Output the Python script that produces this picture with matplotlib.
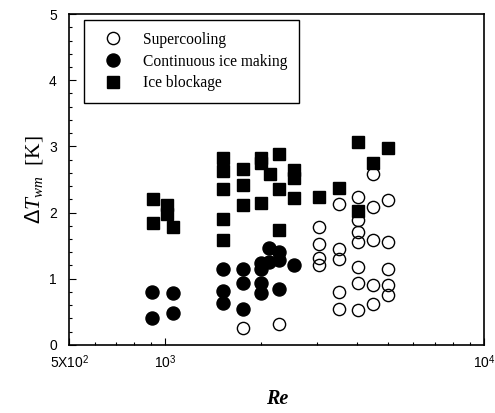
import matplotlib
matplotlib.use('Agg')
import matplotlib.pyplot as plt
from matplotlib.ticker import MultipleLocator, LogLocator, NullFormatter

# Supercooling (open circles)
super_re = [1747, 2266,
            3024, 3024, 3024, 3024,
            3502, 3502, 3502, 3502, 3502,
            4008, 4008, 4008, 4008, 4008, 4008, 4008,
            4498, 4498, 4498, 4498, 4498,
            5011, 5011, 5011, 5011, 5011]
super_dt = [0.25, 0.32,
            1.78, 1.53, 1.31, 1.20,
            2.13, 1.45, 1.30, 0.80, 0.54,
            2.24, 1.89, 1.71, 1.55, 1.18, 0.93, 0.52,
            2.58, 2.09, 1.59, 0.90, 0.61,
            2.19, 1.55, 1.14, 0.90, 0.76]

# Continuous ice making (filled circles)
cont_re = [910, 910, 1057, 1057,
           1512, 1512, 1512,
           1747, 1747, 1747,
           2000, 2000, 2000, 2000,
           2120, 2120,
           2266, 2266, 2266,
           2525]
cont_dt = [0.80, 0.40, 0.78, 0.48,
           1.15, 0.81, 0.63,
           1.15, 0.93, 0.54,
           1.24, 1.15, 0.93, 0.78,
           1.47, 1.25,
           1.40, 1.28, 0.85,
           1.20]

# Ice blockage (filled squares)
block_re = [915, 915, 1012, 1012, 1057,
            1512, 1512, 1512, 1512, 1512,
            1747, 1747, 1747,
            2000, 2000, 2000,
            2123,
            2266, 2266, 2266,
            2525, 2525, 2525,
            3024, 3502, 4008, 4008, 4498, 5011]
block_dt = [2.20, 1.84, 2.12, 1.98, 1.78,
            2.83, 2.63, 2.35, 1.90, 1.59,
            2.66, 2.41, 2.12,
            2.82, 2.75, 2.15,
            2.58,
            2.88, 2.36, 1.73,
            2.64, 2.52, 2.22,
            2.24, 2.37, 3.07, 2.03, 2.75, 2.98]

xtick_vals = [500, 1000, 10000]
xtick_labels = ['5X10$^2$', '10$^3$', '10$^4$']

plt.rcParams['mathtext.fontset'] = 'custom'
plt.rcParams['mathtext.rm'] = 'Liberation Sans'
plt.rcParams['mathtext.it'] = 'Liberation Serif:italic'

fig = plt.figure(figsize=(4.95, 4.13), dpi=100)
ax = fig.add_axes([0.140, 0.165, 0.838, 0.801])

ax.plot(super_re, super_dt, 'o', ms=8.8, mfc='none', mec='black', mew=1.0,
        label='Supercooling', ls='none')
ax.plot(cont_re, cont_dt, 'o', ms=9.4, mfc='black', mec='black',
        label='Continuous ice making', ls='none')
ax.plot(block_re, block_dt, 's', ms=8.8, mfc='black', mec='black',
        label='Ice blockage', ls='none')

ax.set_xscale('log')
ax.set_xlim(500, 10000)
ax.set_ylim(0, 5)
ax.xaxis.set_minor_locator(LogLocator(base=10, subs=range(2, 10)))
ax.xaxis.set_minor_formatter(NullFormatter())
ax.set_xticks(xtick_vals, xtick_labels)
ax.yaxis.set_major_locator(MultipleLocator(1))
ax.yaxis.set_minor_locator(MultipleLocator(0.2))

for lab in ax.get_xticklabels() + ax.get_yticklabels():
    lab.set_family('Liberation Sans')
    lab.set_fontsize(10)

ax.tick_params(which='both', direction='in', top=False, right=False)
ax.tick_params(which='major', length=5, width=0.8)
ax.tick_params(which='minor', length=2.5, width=0.8)
ax.tick_params(axis='y', pad=9)
ax.tick_params(axis='x', pad=6)
for sp in ax.spines.values():
    sp.set_linewidth(1.2)

ax.set_xlabel('Re', family='Liberation Serif', style='italic', weight='bold',
              fontsize=14.5, labelpad=13)
ax.set_ylabel('$\\mathit{\u0394T}_{\\mathit{wm}}$  [K]', family='Liberation Serif',
              fontsize=15.5, labelpad=3)

leg = ax.legend(loc='upper left', bbox_to_anchor=(0.035, 0.982), borderaxespad=0,
                fancybox=False, edgecolor='black', framealpha=1,
                prop={'family': 'Liberation Serif', 'size': 11.2},
                handletextpad=0.75, labelspacing=0.38, borderpad=0.75,
                handlelength=2.3)
leg.get_frame().set_linewidth(1.0)

fig.savefig('out.png', dpi=100)
